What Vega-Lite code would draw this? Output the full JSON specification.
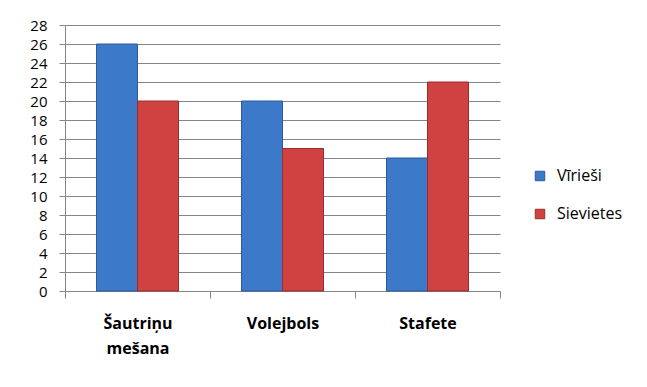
{
  "$schema": "https://vega.github.io/schema/vega-lite/v6.json",
  "autosize": "none",
  "width": 435,
  "height": 266,
  "padding": {"left": 65, "top": 25, "right": 147, "bottom": 96},
  "background": "white",
  "data": {
    "values": [
      {"Sports": "Šautriņu mešana", "Dzimums": "Vīrieši", "Skaits": 26},
      {"Sports": "Šautriņu mešana", "Dzimums": "Sievietes", "Skaits": 20},
      {"Sports": "Volejbols", "Dzimums": "Vīrieši", "Skaits": 20},
      {"Sports": "Volejbols", "Dzimums": "Sievietes", "Skaits": 15},
      {"Sports": "Stafete", "Dzimums": "Vīrieši", "Skaits": 14},
      {"Sports": "Stafete", "Dzimums": "Sievietes", "Skaits": 22}
    ]
  },
  "mark": {"type": "bar", "strokeWidth": 1},
  "encoding": {
    "x": {
      "field": "Sports",
      "type": "nominal",
      "sort": ["Šautriņu mešana", "Volejbols", "Stafete"],
      "scale": {"paddingInner": 0, "paddingOuter": 0},
      "axis": {
        "title": null,
        "labelAngle": 0,
        "labelExpr": "split(datum.label, ' ')",
        "labelLineHeight": 25,
        "labelFont": "Open Sans",
        "labelFontSize": 16,
        "labelFontWeight": "bold",
        "labelColor": "#000000",
        "labelPadding": 17,
        "tickBand": "extent",
        "tickSize": 7,
        "tickColor": "#868686",
        "domainColor": "#868686",
        "labelBaseline": "top"
      }
    },
    "xOffset": {
      "field": "Dzimums",
      "sort": ["Vīrieši", "Sievietes"],
      "scale": {"paddingInner": 0, "paddingOuter": 0.768}
    },
    "y": {
      "field": "Skaits",
      "type": "quantitative",
      "scale": {"domain": [0, 28], "nice": false},
      "axis": {
        "title": null,
        "values": [0, 2, 4, 6, 8, 10, 12, 14, 16, 18, 20, 22, 24, 26, 28],
        "labelFont": "Open Sans",
        "labelFontSize": 15,
        "labelColor": "#000000",
        "labelPadding": 12,
        "tickSize": 6,
        "tickColor": "#868686",
        "domainColor": "#868686",
        "gridColor": "#868686",
        "gridOpacity": 1
      }
    },
    "color": {
      "field": "Dzimums",
      "type": "nominal",
      "sort": ["Vīrieši", "Sievietes"],
      "scale": {"domain": ["Vīrieši", "Sievietes"], "range": ["#3c79c9", "#d04141"]},
      "title": null,
      "legend": {
        "orient": "none",
        "legendX": 467,
        "legendY": 143,
        "symbolType": "square",
        "symbolSize": 90,
        "symbolStrokeWidth": 1,
        "labelFont": "Open Sans",
        "labelFontSize": 16,
        "labelColor": "#000000",
        "labelOffset": 9,
        "rowPadding": 22
      }
    },
    "stroke": {
      "field": "Dzimums",
      "type": "nominal",
      "sort": ["Vīrieši", "Sievietes"],
      "scale": {"domain": ["Vīrieši", "Sievietes"], "range": ["#2c5a9c", "#9c2c2c"]},
      "title": null
    }
  },
  "config": {
    "view": {"stroke": null},
    "axis": {"domainWidth": 1, "tickWidth": 1, "gridWidth": 1}
  }
}
